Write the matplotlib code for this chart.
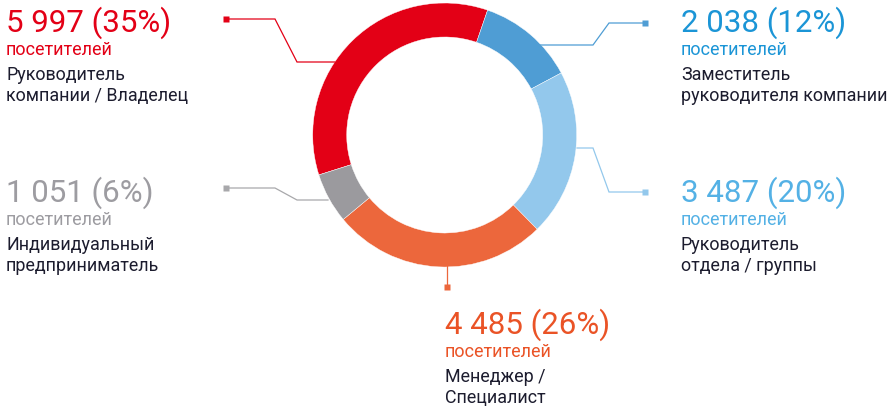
import matplotlib
matplotlib.use("Agg")
from matplotlib import pyplot as plt

plt.rcParams['font.family'] = ['Roboto', 'DejaVu Sans']

# data
counts = [5997, 2038, 3487, 4485, 1051]
count_labels = ['5 997', '2 038', '3 487', '4 485', '1 051']
shares = ['35%', '12%', '20%', '26%', '6%']
roles = ['Руководитель\nкомпании / Владелец',
         'Заместитель\nруководителя компании',
         'Руководитель\nотдела / группы',
         'Менеджер /\nСпециалист',
         'Индивидуальный\nпредприниматель']
ring_colors = ['#e30016', '#4f9dd4', '#93c8ec', '#ec673c', '#9b9a9e']
text_colors = ['#e30016', '#1b95d6', '#54b1e5', '#ea5326', '#9d9ca1']
line_colors = ['#e30016', '#4f9dd4', '#93c8ec', '#ec673c', '#a8a8ab']

W, H = 894, 415

# layout in pixels (y from top)
text_pos = [(6, 32), (681, 32), (681, 202), (445, 334), (6, 202)]
leaders = [
    [(226, 19), (275, 19), (297, 62), (335, 62)],
    [(645, 23), (609, 23), (593, 45), (540, 45)],
    [(645, 192), (609, 192), (593, 148), (577, 148)],
    [(447, 287), (447, 266)],
    [(226, 188), (275, 188), (297, 200), (328, 200)],
]

fig = plt.figure(figsize=(W / 100, H / 100), dpi=100)
ax = fig.add_axes([0, 0, 1, 1])

ax.pie(counts, colors=ring_colors, startangle=-162.4, counterclock=False,
       radius=132, center=(444.7, H - 135),
       wedgeprops=dict(width=34, edgecolor='white', linewidth=0.3))

for pts, c in zip(leaders, line_colors):
    xs = [p[0] for p in pts]
    ys = [H - p[1] for p in pts]
    ax.plot(xs, ys, color=c, lw=0.9, solid_joinstyle='miter')
    ax.plot(xs[0], ys[0], marker='s', ms=4.2, color=c, mec='none')

dark = '#1c1c2e'
for (x, y), cl, sh, role, tc in zip(text_pos, count_labels, shares, roles, text_colors):
    ax.text(x, H - y, f'{cl} ({sh})', color=tc, fontsize=22.5,
            ha='left', va='baseline')
    ax.text(x, H - y - 23, 'посетителей', color=tc, fontsize=13,
            ha='left', va='baseline')
    l1, l2 = role.split('\n')
    ax.text(x, H - y - 48, l1, color=dark, fontsize=12.9,
            ha='left', va='baseline')
    ax.text(x, H - y - 69, l2, color=dark, fontsize=12.9,
            ha='left', va='baseline')

ax.set_xlim(0, W)
ax.set_ylim(0, H)
ax.set_aspect('auto')
ax.axis('off')

fig.savefig('out.png', dpi=100)
